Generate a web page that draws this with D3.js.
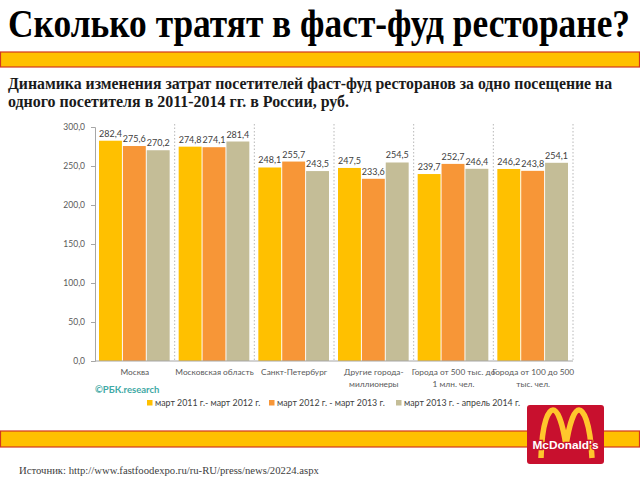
<!DOCTYPE html>
<html><head><meta charset="utf-8">
<script src="https://cdn.jsdelivr.net/npm/d3@7"></script>
<style>body{margin:0;background:#fff}svg{display:block}</style>
</head><body>
<svg id="c" width="640" height="480"></svg>
<script>
const categories = [["Москва"],["Московская область"],["Санкт-Петербург"],["Другие города-","миллионеры"],["Города от 500 тыс. до","1 млн. чел."],["Города от 100 до 500","тыс. чел."]];
const seriesNames = ["март 2011 г.- март 2012 г.","март 2012 г. - март 2013 г.","март 2013 г. - апрель 2014 г."];
const s2011 = [282.4, 274.8, 248.1, 247.5, 239.7, 246.2];
const s2012 = [275.6, 274.1, 255.7, 233.6, 252.7, 243.8];
const s2013 = [270.2, 281.4, 243.5, 254.5, 246.4, 254.1];
const yTicks = [0, 50, 100, 150, 200, 250, 300];
const colors = ["#FFC000", "#F79637", "#C4BD97"];
const title = "Сколько тратят в фаст-фуд ресторане?";
const subtitle = ["Динамика изменения затрат посетителей фаст-фуд ресторанов за одно посещение на","одного посетителя в 2011-2014 гг. в России, руб."];
const source = "Источник: http://www.fastfoodexpo.ru/ru-RU/press/news/20224.aspx";

const series = [s2011, s2012, s2013];
const svg = d3.select("#c");

function fitText(sel, width) {
  const n = sel.node();
  const w = n.getComputedTextLength();
  const fs = parseFloat(sel.attr("font-size"));
  sel.attr("font-size", fs * width / w);
}

// Title
const t = svg.append("text").attr("x", 8).attr("y", 37)
  .attr("transform", "translate(0,37) scale(1,1.12) translate(0,-37)")
  .attr("font-family", "Liberation Serif, Times New Roman, serif").attr("font-weight", "bold")
  .attr("font-size", 34).attr("fill", "#000").text(title);
fitText(t, 622);

// bands
[[52, 15], [431, 16]].forEach(([y, h]) => {
  svg.append("rect").attr("x", 0.5).attr("y", y).attr("width", 639).attr("height", h)
    .attr("fill", "#FFC000").attr("stroke", "#D2371E").attr("stroke-width", 1.2);
});

// subtitle
subtitle.forEach((line, i) => {
  const yy = 89 + i * 18.5;
  const s = svg.append("text").attr("x", 8).attr("y", yy)
    .attr("transform", `translate(0,${yy}) scale(1,1.08) translate(0,${-yy})`)
    .attr("font-family", "Liberation Serif, Times New Roman, serif").attr("font-weight", "bold")
    .attr("font-size", 14.5).attr("fill", "#1a1a1a").text(line);
  if (i === 0) fitText(s, 604);
  else fitText(s, 341);
});

// Chart
const x0 = d3.scaleBand().domain(d3.range(categories.length)).range([95, 573]).padding(0);
const x1 = d3.scaleBand().domain(d3.range(3)).range([4, x0.bandwidth() - 5]).paddingInner(0.04);
const y = d3.scaleLinear().domain([0, 300]).range([361, 127]);

const g = svg.append("g");
const sans = "Lato, Open Sans, sans-serif";

// separators
d3.range(1, categories.length + 1).forEach(i => {
  const xx = x0(0) + x0.bandwidth() * i;
  g.append("line").attr("x1", xx).attr("x2", xx).attr("y1", 124).attr("y2", y(0))
    .attr("stroke", "#B0B0B0").attr("stroke-width", 0.9).attr("stroke-dasharray", "1.5,2");
});

// y axis
const ya = g.append("g").attr("transform", "translate(95,0)")
  .call(d3.axisLeft(y).tickValues(yTicks).tickSize(4).tickPadding(6).tickFormat(d => d3.format(".1f")(d).replace(".", ",")));
ya.select(".domain").attr("stroke", "#A6A6A6");
ya.selectAll(".tick line").attr("stroke", "#A6A6A6");
ya.selectAll("text").attr("font-family", sans).attr("font-size", 8.5).attr("fill", "#595959");

// bars
categories.forEach((c, i) => {
  series.forEach((s, j) => {
    const bx = x0(i) + x1(j);
    g.append("rect").attr("x", bx).attr("y", y(s[i])).attr("width", x1.bandwidth())
      .attr("height", y(0) - y(s[i])).attr("fill", colors[j]);
    g.append("text").attr("x", bx + x1.bandwidth() / 2).attr("y", y(s[i]) - 4)
      .attr("text-anchor", "middle").attr("font-family", sans).attr("font-size", 9)
      .attr("fill", "#404040").text(d3.format(".1f")(s[i]).replace(".", ","));
  });
});

// x axis line
g.append("line").attr("x1", 95).attr("x2", 573).attr("y1", y(0)).attr("y2", y(0))
  .attr("stroke", "#A6A6A6");

// category labels
categories.forEach((c, i) => {
  c.forEach((line, k) => {
    g.append("text").attr("x", x0(i) + x0.bandwidth() / 2).attr("y", 375 + k * 11.5)
      .attr("text-anchor", "middle").attr("font-family", sans).attr("font-size", 8.3)
      .attr("fill", "#595959").text(line);
  });
});

// RBK
svg.append("text").attr("x", 95).attr("y", 393).attr("font-family", sans).attr("font-weight", "bold")
  .attr("font-size", 9.5).attr("fill", "#3FA9A5").text("©РБК.research");

// legend
const legX = [147, 269, 396];
seriesNames.forEach((n, j) => {
  svg.append("rect").attr("x", legX[j]).attr("y", 400).attr("width", 5.5).attr("height", 5.5).attr("fill", colors[j]);
  svg.append("text").attr("x", legX[j] + 8).attr("y", 406).attr("font-family", sans).attr("font-size", 8.8)
    .attr("fill", "#404040").text(n);
});

// McDonald's logo
const lg = svg.append("g");
lg.append("rect").attr("x", 527).attr("y", 405).attr("width", 77).attr("height", 59).attr("rx", 3)
  .attr("fill", "#C8102E");
lg.append("path")
  .attr("d", "M541,458 C542,420 549,410 553,410 C558,410 563,425 566,446 C569,425 574,410 579,410 C583,410 590,420 592,458")
  .attr("fill", "none").attr("stroke", "#FFC72C").attr("stroke-width", 5.5);
lg.append("text").attr("x", 565.5).attr("y", 449).attr("text-anchor", "middle")
  .attr("font-family", "Liberation Sans, Arial, sans-serif").attr("font-weight", "bold")
  .attr("font-size", 11).attr("fill", "#fff").attr("stroke", "#C8102E").attr("stroke-width", 2.5)
  .attr("paint-order", "stroke").attr("textLength", 66).attr("lengthAdjust", "spacingAndGlyphs")
  .text("McDonald's");

// source
svg.append("text").attr("x", 19).attr("y", 474).attr("font-family", "Liberation Serif, Times New Roman, serif")
  .attr("font-size", 10.7).attr("fill", "#404040").text(source);
</script>
</body></html>
